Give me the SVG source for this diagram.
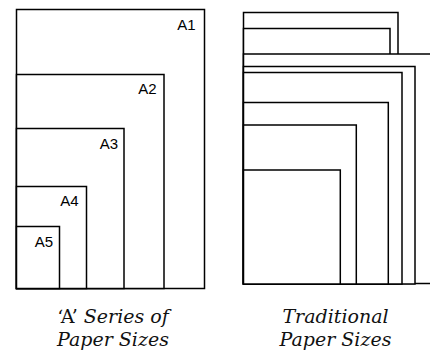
<svg xmlns="http://www.w3.org/2000/svg" width="430" height="354" viewBox="0 0 430 354">
<style>
.sheet{fill:#fff;stroke:#000;stroke-width:1.5}
.lbl{font-family:"Liberation Sans",Arial,sans-serif;font-size:15px;fill:#000;text-anchor:end}
.cap{font-family:"DejaVu Serif","Liberation Serif",serif;font-style:italic;font-size:19px;fill:#111;text-anchor:middle}
</style>
<rect width="430" height="354" fill="#fff"/>
<g id="a-series">
  <g id="A1"><rect class="sheet" x="16.5" y="9.5" width="188" height="279"/><text class="lbl" x="195.5" y="29.5">A1</text></g>
  <g id="A2"><rect class="sheet" x="16.5" y="74.5" width="147.5" height="214"/><text class="lbl" x="156.5" y="94">A2</text></g>
  <g id="A3"><rect class="sheet" x="16.5" y="128.5" width="107.5" height="160"/><text class="lbl" x="118" y="149">A3</text></g>
  <g id="A4"><rect class="sheet" x="16.5" y="186.5" width="70" height="102"/><text class="lbl" x="78.5" y="205.5">A4</text></g>
  <g id="A5"><rect class="sheet" x="16.5" y="226.5" width="43" height="62"/><text class="lbl" x="53" y="247">A5</text></g>
</g>
<g id="traditional">
  <rect id="t1" class="sheet" x="243.5" y="12.5" width="154.5" height="271"/>
  <rect id="t2" class="sheet" x="243.5" y="28.5" width="146.5" height="255"/>
  <rect id="t3" class="sheet" x="243.5" y="54" width="200" height="229.5"/>
  <rect id="t4" class="sheet" x="243.5" y="66.5" width="171.5" height="217.5"/>
  <rect id="t5" class="sheet" x="243.5" y="72.5" width="158.5" height="211.5"/>
  <rect id="t6" class="sheet" x="243.5" y="102.5" width="144.8" height="181.5"/>
  <rect id="t7" class="sheet" x="243.5" y="125" width="112.8" height="159"/>
  <rect id="t8" class="sheet" x="243.5" y="170" width="96.8" height="114"/>
</g>
<g id="captions">
  <text class="cap" x="113" y="323"><tspan font-style="normal">‘A’</tspan> Series of</text>
  <text class="cap" x="113" y="346">Paper Sizes</text>
  <text class="cap" x="335.5" y="323">Traditional</text>
  <text class="cap" x="335.5" y="346">Paper Sizes</text>
</g>
</svg>
